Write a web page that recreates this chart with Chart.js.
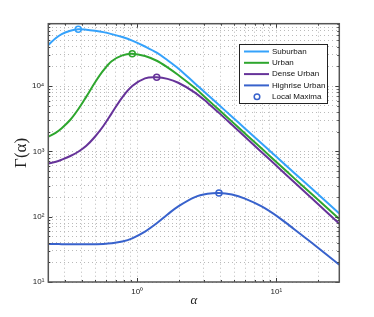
<!DOCTYPE html>
<html>
<head>
<meta charset="utf-8">
<script src="https://cdn.jsdelivr.net/npm/chart.js@4.4.1/dist/chart.umd.min.js"></script>
<style>
html, body { margin: 0; padding: 0; background: #fff; }
</style>
</head>
<body>
<canvas id="gammaChart" width="374" height="317"></canvas>
<script>
// values
const alpha = [0.229, 0.26, 0.286, 0.33, 0.376, 0.43, 0.496, 0.57, 0.654, 0.78, 0.92, 1.136, 1.38, 1.65, 1.972,
  2.60, 3.2, 3.87, 4.8, 5.95, 7.85, 10.34, 13.6, 17.98, 28.4];
const suburban = [42460, 54330, 62370, 70150, 73790, 72780, 70150, 66830, 62370, 56230, 49550, 40270, 32360, 24830, 18620,
  10960, 7380, 5120, 3390, 2240, 1318, 778, 458, 269, 112];
const urban = [1675, 1941, 2265, 3048, 4406, 6887, 11300, 17300, 23930, 29440, 31190, 28770, 24380, 19320, 14720,
  9311, 6237, 4325, 2851, 1879, 1102, 647, 379, 222, 91.8];
const denseUrban = [649, 693, 746, 849, 986, 1219, 1675, 2443, 3819, 6714, 10000, 13120, 13580, 12880, 11220,
  7943, 5559, 3882, 2547, 1667, 970, 566, 330, 191, 78.2];
const highriseUrban = [38.2, 38.1, 38.0, 37.9, 37.8, 37.8, 37.9, 38.2, 39.1, 41.6, 46.6, 58.9, 79.3, 108.1, 143.9,
  199.5, 223.9, 231.2, 217.8, 188.8, 143.2, 98.4, 63.2, 39.9, 18.4];

const maxAlpha = [0.376, 0.92, 1.38, 3.87];
const maxGamma = [73790, 31190, 13580, 231];

const seriesLabels = ['Suburban', 'Urban', 'Dense Urban', 'Highrise Urban'];
const seriesColors = ['#35a2fb', '#2ea62e', '#663399', '#3862cc'];

const xMajor = [1, 10];
const xMajorLabels = ['10\u2070', '10\u00b9'];
const yMajor = [10, 100, 1000, 10000];
const yMajorLabels = ['10\u00b9', '10\u00b2', '10\u00b3', '10\u2074'];

function toPoints(xs, ys) {
  return xs.map((x, i) => ({ x: x, y: ys[i] }));
}

function logTicks(min, max) {
  const t = [];
  for (let e = -2; e <= 5; e++) {
    for (let m = 1; m <= 9; m++) {
      const v = m * Math.pow(10, e);
      if (v >= min - 1e-9 && v <= max + 1e-9) t.push({ value: v });
    }
  }
  return t;
}

function isMajor(v) {
  const l = Math.log10(v);
  return Math.abs(l - Math.round(l)) < 1e-9;
}

const lineSeries = [suburban, urban, denseUrban, highriseUrban].map((ys, i) => ({
  label: seriesLabels[i],
  data: toPoints(alpha, ys),
  borderColor: seriesColors[i],
  borderWidth: 2,
  pointRadius: 0,
  fill: false,
  tension: 0.35
}));

const maxima = {
  label: 'Local Maxima',
  data: toPoints(maxAlpha, maxGamma),
  showLine: false,
  pointStyle: 'circle',
  pointRadius: 3,
  pointBorderWidth: 1.5,
  pointBorderColor: seriesColors,
  pointBackgroundColor: 'rgba(0,0,0,0)',
  borderColor: '#3862cc'
};

// box round the axes, inner tick marks and the legend
const frameAndLegend = {
  id: 'frameAndLegend',
  afterDatasetsDraw(chart) {
    const ctx = chart.ctx;
    const a = chart.chartArea;
    const sx = chart.scales.x;
    const sy = chart.scales.y;
    ctx.save();
    ctx.strokeStyle = '#3c3c3c';
    ctx.lineWidth = 1;
    ctx.beginPath();
    sx.ticks.forEach(t => {
      const px = Math.round(sx.getPixelForValue(t.value)) + 0.5;
      const len = isMajor(t.value) ? 4 : 2;
      ctx.moveTo(px, a.bottom); ctx.lineTo(px, a.bottom - len);
      ctx.moveTo(px, a.top); ctx.lineTo(px, a.top + len);
    });
    sy.ticks.forEach(t => {
      const py = Math.round(sy.getPixelForValue(t.value)) + 0.5;
      const len = isMajor(t.value) ? 4 : 2;
      ctx.moveTo(a.left, py); ctx.lineTo(a.left + len, py);
      ctx.moveTo(a.right, py); ctx.lineTo(a.right - len, py);
    });
    ctx.stroke();

    ctx.strokeStyle = '#555';
    ctx.lineWidth = 1.5;
    ctx.strokeRect(a.left, a.top, a.right - a.left, a.bottom - a.top);

    // legend
    const bx = 239.5, by = 44.5, bw = 88, bh = 59;
    ctx.fillStyle = '#fff';
    ctx.fillRect(bx, by, bw, bh);
    ctx.strokeStyle = '#222';
    ctx.lineWidth = 1;
    ctx.strokeRect(bx, by, bw, bh);
    ctx.font = '8px "Liberation Sans", Arial, sans-serif';
    ctx.textBaseline = 'middle';
    ctx.textAlign = 'left';
    chart.data.datasets.forEach((ds, i) => {
      const ry = 51.5 + i * 11.3;
      if (ds.showLine === false) {
        ctx.beginPath();
        ctx.strokeStyle = ds.borderColor;
        ctx.lineWidth = 1.5;
        ctx.arc(257, ry, 2.8, 0, Math.PI * 2);
        ctx.stroke();
      } else {
        ctx.beginPath();
        ctx.strokeStyle = ds.borderColor;
        ctx.lineWidth = 2;
        ctx.moveTo(244, ry);
        ctx.lineTo(269, ry);
        ctx.stroke();
      }
      ctx.fillStyle = '#111';
      ctx.fillText(ds.label, 272, ry);
    });
    ctx.restore();
  }
};

const config = {
  type: 'line',
  data: { datasets: lineSeries.concat([maxima]) },
  options: {
    responsive: false,
    animation: false,
    devicePixelRatio: 1,
    layout: { padding: { left: 0, right: 34.7, top: 23.7, bottom: 0 } },
    plugins: {
      legend: { display: false },
      tooltip: { enabled: false }
    },
    scales: {
      x: {
        type: 'logarithmic',
        min: 0.229,
        max: 28.4,
        afterBuildTicks: scale => { scale.ticks = logTicks(scale.min, scale.max); },
        afterFit: scale => { scale.height = 35; },
        grid: { color: '#bababa', lineWidth: 1, drawTicks: false, tickLength: 0 },
        border: { display: false, dash: [1, 3] },
        ticks: {
          autoSkip: false,
          maxRotation: 0,
          padding: 5,
          color: '#222',
          font: { family: '"Liberation Sans", Arial, sans-serif', size: 8 },
          callback: v => { const k = xMajor.indexOf(v); return k >= 0 ? xMajorLabels[k] : ''; }
        },
        title: {
          display: true,
          text: '\u03b1',
          color: '#222',
          font: { family: '"Liberation Serif", serif', size: 13, style: 'italic' },
          padding: { top: 0, bottom: 9 }
        }
      },
      y: {
        type: 'logarithmic',
        min: 10,
        max: 90000,
        afterBuildTicks: scale => { scale.ticks = logTicks(scale.min, scale.max); },
        afterFit: scale => { scale.width = 48.3; },
        grid: { color: '#bababa', lineWidth: 1, drawTicks: false, tickLength: 0 },
        border: { display: false, dash: [1, 3] },
        ticks: {
          autoSkip: false,
          padding: 4,
          color: '#222',
          font: { family: '"Liberation Sans", Arial, sans-serif', size: 8 },
          callback: v => { const k = yMajor.indexOf(v); return k >= 0 ? yMajorLabels[k] : ''; }
        },
        title: {
          display: true,
          text: '\u0393(\u03b1)',
          color: '#222',
          font: { family: '"Liberation Serif", serif', size: 17 },
          padding: { top: 11, bottom: 0 }
        }
      }
    }
  },
  plugins: [frameAndLegend]
};

const ctx = document.getElementById('gammaChart').getContext('2d');
new Chart(ctx, config);
</script>
</body>
</html>
